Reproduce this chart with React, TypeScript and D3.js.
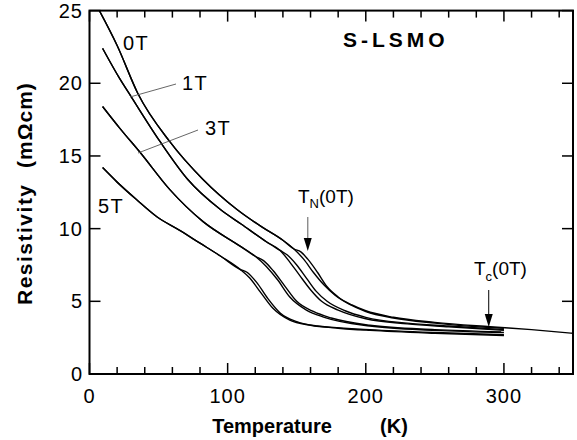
import React from "react";
import * as d3 from "d3";

type Pt = [number, number];

// temperature (K), resistivity (mOhm cm) -- two sweeps per field
const curve0T_a: Pt[] = [[6, 25.2], [20, 22.6], [35, 19.3], [58, 16.0], [82, 13.4], [107, 11.3], [125, 10.1], [140, 9.2], [148, 8.6], [155, 7.9], [162, 7.0], [170, 6.1], [178, 5.4], [188, 4.8], [200, 4.3], [220, 3.85], [250, 3.5], [290, 3.2], [300, 3.15]];
const curve0T_b: Pt[] = [[6, 25.2], [20, 22.6], [35, 19.3], [58, 16.0], [82, 13.4], [107, 11.3], [125, 10.1], [140, 9.2], [148, 8.6], [153, 8.4], [158, 7.9], [165, 7.0], [172, 6.0], [180, 5.3], [190, 4.75], [200, 4.35], [220, 3.9], [250, 3.55], [290, 3.25], [320, 3.05], [350, 2.8]];
const curve1T_a: Pt[] = [[9.5, 22.4], [22, 20.3], [30, 19.1], [51, 16.0], [71, 13.4], [95, 11.3], [110, 10.3], [128, 9.1], [138, 8.5], [145, 7.7], [152, 6.8], [160, 5.8], [168, 5.0], [180, 4.4], [200, 3.8], [230, 3.45], [260, 3.25], [300, 3.0]];
const curve1T_b: Pt[] = [[9.5, 22.4], [22, 20.3], [30, 19.1], [51, 16.0], [71, 13.4], [95, 11.3], [110, 10.3], [128, 9.1], [138, 8.5], [143, 8.2], [150, 7.5], [157, 6.6], [164, 5.7], [172, 5.0], [185, 4.35], [200, 3.9], [230, 3.5], [260, 3.3], [300, 3.05]];
const curve3T_a: Pt[] = [[9.5, 18.4], [22, 16.9], [37, 15.2], [58, 12.7], [82, 10.5], [109, 8.8], [120, 8.1], [128, 7.4], [136, 6.5], [145, 5.3], [157, 4.4], [170, 3.9], [203, 3.3], [250, 3.0], [300, 2.85]];
const curve3T_b: Pt[] = [[9.5, 18.4], [22, 16.9], [37, 15.2], [58, 12.7], [82, 10.5], [109, 8.8], [120, 8.1], [126, 7.8], [133, 7.1], [141, 6.1], [150, 5.0], [162, 4.3], [175, 3.85], [203, 3.35], [250, 3.05], [298, 2.9]];
const curve5T_a: Pt[] = [[9.5, 14.2], [20, 13.2], [34, 12.0], [49, 10.8], [65, 9.9], [80, 9.0], [95, 8.1], [109, 7.2], [116, 6.6], [124, 5.6], [133, 4.5], [145, 3.7], [160, 3.35], [180, 3.15], [203, 3.0], [250, 2.8], [300, 2.65]];
const curve5T_b: Pt[] = [[9.5, 14.2], [20, 13.2], [34, 12.0], [49, 10.8], [65, 9.9], [80, 9.0], [95, 8.1], [109, 7.2], [114, 7.0], [121, 6.3], [129, 5.2], [138, 4.2], [150, 3.6], [165, 3.3], [203, 3.05], [250, 2.85], [300, 2.7]];

const curves = [curve0T_a, curve0T_b, curve1T_a, curve1T_b, curve3T_a, curve3T_b, curve5T_a, curve5T_b];

const xTicks = [0, 100, 200, 300];
const xMinor = d3.range(0, 351, 20);
const yTicks = [0, 5, 10, 15, 20, 25];

const App = () => {
  const width = 577;
  const height = 440;
  const left = 89.5, right = 573, top = 10.6, bottom = 374;

  const x = d3.scaleLinear().domain([0, 350]).range([left, right]);
  const y = d3.scaleLinear().domain([0, 25]).range([bottom, top]);

  const line = d3
    .line<Pt>()
    .x((d) => x(d[0]))
    .y((d) => y(d[1]))
    .curve(d3.curveMonotoneX);

  const font = "'Liberation Sans', Arial, sans-serif";

  return (
    <svg width={width} height={height} style={{ position: "absolute", left: 0, top: 0, background: "#fff" }} fontFamily={font}>
      <defs>
        <clipPath id="plot">
          <rect x={left} y={top} width={right - left} height={bottom - top} />
        </clipPath>
      </defs>

      {/* curves */}
      <g clipPath="url(#plot)" fill="none" stroke="#000" strokeWidth={1.4}>
        {curves.map((c, i) => (
          <path key={i} d={line(c) || ""} />
        ))}
      </g>

      {/* frame */}
      <rect x={left} y={top} width={right - left} height={bottom - top} fill="none" stroke="#000" strokeWidth={2} />

      {/* x ticks, bottom and top */}
      <g stroke="#000" strokeWidth={1.5}>
        {xMinor.map((t) => {
          const len = t % 100 === 0 ? 11 : 7;
          return (
            <g key={t}>
              <line x1={x(t)} x2={x(t)} y1={bottom} y2={bottom - len} />
              <line x1={x(t)} x2={x(t)} y1={top} y2={top + len} />
            </g>
          );
        })}
        {yTicks.map((t) => (
          <g key={t}>
            <line x1={left} x2={left + 11} y1={y(t)} y2={y(t)} />
            <line x1={right} x2={right - 11} y1={y(t)} y2={y(t)} />
          </g>
        ))}
      </g>

      {/* tick labels */}
      <g fontSize={20} fill="#000">
        {xTicks.map((t) => (
          <text key={t} x={x(t)} y={403} textAnchor="middle" letterSpacing={1}>
            {t}
          </text>
        ))}
        {yTicks.map((t) => (
          <text key={t} x={83} y={y(t) + 7} textAnchor="end" letterSpacing={1}>
            {t}
          </text>
        ))}
      </g>

      {/* axis titles */}
      <text x={272} y={433} textAnchor="middle" fontSize={20} fontWeight="bold">
        Temperature
      </text>
      <text x={394} y={433} textAnchor="middle" fontSize={20} fontWeight="bold">
        (K)
      </text>
      <text transform="translate(32,305) rotate(-90)" fontSize={21} fontWeight="bold" letterSpacing={1.5}>
        Resistivity
      </text>
      <text transform="translate(32,168) rotate(-90)" fontSize={21} fontWeight="bold" letterSpacing={1}>
        (mΩcm)
      </text>

      {/* sample label */}
      <text x={343} y={47} fontSize={21} fontWeight="bold" letterSpacing={4}>
        S-LSMO
      </text>

      {/* field labels */}
      <g fontSize={20} letterSpacing={1.5}>
        <text x={123} y={50}>0T</text>
        <text x={182} y={90}>1T</text>
        <text x={205} y={135}>3T</text>
        <text x={98} y={213}>5T</text>
      </g>
      <g stroke="#555" strokeWidth={0.9}>
        <line x1={176} y1={84} x2={130} y2={97} />
        <line x1={198} y1={130} x2={138} y2={153} />
      </g>

      {/* T_N arrow */}
      <text x={298} y={203} fontSize={19}>
        T<tspan fontSize={13} dy={5}>N</tspan>
        <tspan dy={-5}>(0T)</tspan>
      </text>
      <line x1={x(158)} x2={x(158)} y1={217} y2={242} stroke="#777" strokeWidth={1.2} />
      <path d={`M${x(158) - 4},${238} L${x(158) + 4},${238} L${x(158)},${251} Z`} fill="#000" />

      {/* T_c arrow */}
      <text x={474} y={275} fontSize={19}>
        T<tspan fontSize={13} dy={6}>c</tspan>
        <tspan dy={-6}>(0T)</tspan>
      </text>
      <line x1={x(289)} x2={x(289)} y1={290} y2={318} stroke="#000" strokeWidth={1} />
      <path d={`M${x(289) - 4},${314} L${x(289) + 4},${314} L${x(289)},${327} Z`} fill="#000" />
    </svg>
  );
};

export default App;
